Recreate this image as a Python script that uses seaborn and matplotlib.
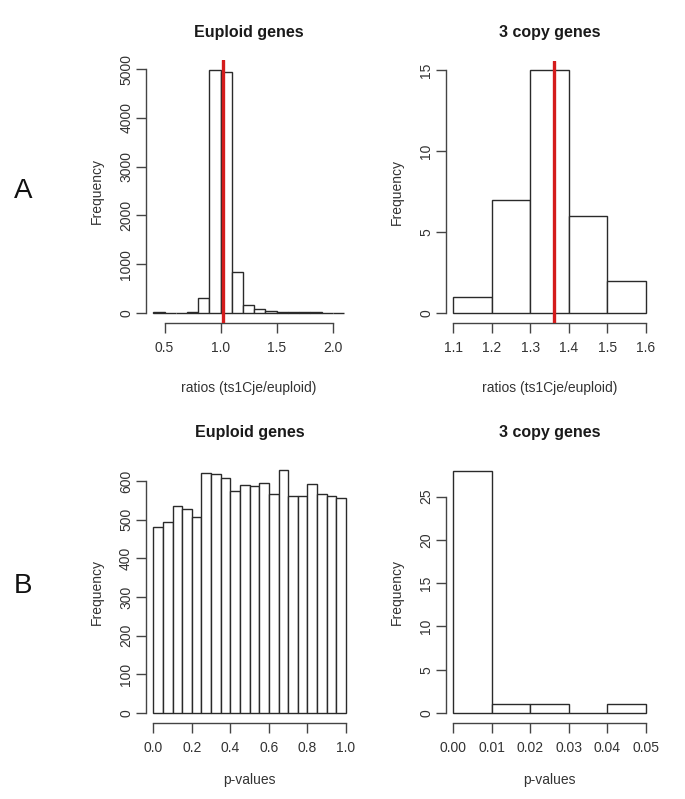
import numpy as np
import pandas as pd
import matplotlib
matplotlib.use("Agg")
import matplotlib.pyplot as plt
import seaborn as sns

# ---------------- data ----------------
# A: ratios (ts1Cje/euploid), histogram bins of width 0.1
eu_ratio_edges = [0.4, 0.5, 0.6, 0.7, 0.8, 0.9, 1.0, 1.1, 1.2, 1.3, 1.4,
                  1.5, 1.6, 1.7, 1.8, 1.9, 2.0, 2.1]
eu_ratio_counts = [18, 0, 9, 11, 305, 4990, 4950, 839, 164, 76, 38,
                   14, 12, 12, 10, 0, 1]
eu_ratio_mean = 1.02

tc_ratio_edges = [1.1, 1.2, 1.3, 1.4, 1.5, 1.6]
tc_ratio_counts = [1, 7, 15, 6, 2]
tc_ratio_mean = 1.362

# B: p-values
eu_p_edges = [0.0, 0.05, 0.10, 0.15, 0.20, 0.25, 0.30, 0.35, 0.40, 0.45, 0.50,
              0.55, 0.60, 0.65, 0.70, 0.75, 0.80, 0.85, 0.90, 0.95, 1.0]
eu_p_counts = [482, 493, 536, 527, 508, 620, 617, 609, 573, 591,
               588, 596, 566, 628, 562, 560, 593, 566, 560, 556]

tc_p_edges = [0.00, 0.01, 0.02, 0.03, 0.04, 0.05]
tc_p_counts = [28, 1, 1, 0, 1]

eu_ratio_ticks = [0.5, 1.0, 1.5, 2.0]
eu_ratio_yticks = [0, 1000, 2000, 3000, 4000, 5000]
tc_ratio_ticks = [1.1, 1.2, 1.3, 1.4, 1.5, 1.6]
tc_ratio_yticks = [0, 5, 10, 15]
eu_p_ticks = [0.0, 0.2, 0.4, 0.6, 0.8, 1.0]
eu_p_yticks = [0, 100, 200, 300, 400, 500, 600]
tc_p_ticks = [0.00, 0.01, 0.02, 0.03, 0.04, 0.05]
tc_p_yticks = [0, 5, 10, 15, 20, 25]

titles = ["Euploid genes", "3 copy genes"]
xlab_ratio = "ratios (ts1Cje/euploid)"
xlab_p = "p-values"
ylab = "Frequency"

# ---------------- style ----------------
sns.set_style("white")
plt.rcParams['font.family'] = ['Liberation Sans', 'DejaVu Sans']
TXT = '#333333'
LINE = '#444444'

W, H = 685, 799
fig = plt.figure(figsize=(W / 100, H / 100), dpi=100)


def add_ax(l, r, t, b):
    return fig.add_axes([l / W, 1 - b / H, (r - l) / W, (b - t) / H])


def draw(ax, edges, counts, xticks, yticks, xfmt, title, xlabel, box,
         title_y, xlab_off, vline=None):
    centers = [(a + b) / 2 for a, b in zip(edges[:-1], edges[1:])]
    df = pd.DataFrame({"x": centers, "w": counts})
    sns.histplot(data=df, x="x", weights="w", bins=list(edges), ax=ax,
                 color="white", edgecolor="#2a2a2a", linewidth=1.0, alpha=1)
    lo, hi = edges[0], edges[-1]
    pad = 0.04 * (hi - lo)
    ax.set_xlim(lo - pad, hi + pad)
    ymax = max(counts)
    ax.set_ylim(-0.04 * ymax, 1.04 * ymax)
    if vline is not None:
        ax.axvline(vline, color="#d41c1c", lw=2.4, zorder=5)
    for s in ["top", "right"]:
        ax.spines[s].set_visible(False)
    ax.spines["left"].set_bounds(yticks[0], yticks[-1])
    ax.spines["bottom"].set_bounds(xticks[0], xticks[-1])
    for s in ["left", "bottom"]:
        ax.spines[s].set_color(LINE)
        ax.spines[s].set_linewidth(1.0)
    ax.set_xticks(xticks)
    ax.set_xticklabels([xfmt.format(v) for v in xticks])
    ax.set_yticks(yticks)
    ax.set_yticklabels([str(v) for v in yticks])
    ax.tick_params(axis="both", direction="out", length=7, width=1.0,
                   color=LINE, labelcolor=TXT, labelsize=10)
    ax.tick_params(axis="x", pad=6.5, bottom=True)
    ax.tick_params(axis="y", pad=2.0, left=True)
    for lab in ax.get_yticklabels():
        lab.set_rotation(90)
        lab.set_va("center")
    l, r, t, b = box
    ax.set_ylabel(ylab, color=TXT, fontsize=10)
    ax.yaxis.label.set_va("center")
    ax.yaxis.set_label_coords(-49 / (r - l), 0.5)
    ax.set_xlabel(xlabel, color=TXT, fontsize=10)
    ax.xaxis.label.set_va("center")
    ax.xaxis.set_label_coords(0.5, -xlab_off / (b - t))
    fig.text(((l + r) / 2) / W, 1 - title_y / H, title, ha="center",
             va="center", fontsize=11.5, fontweight="bold", color="#1a1a1a")


boxes = {
    "tl": (145.7, 351.6, 60.0, 322.7),
    "tr": (445.6, 653.4, 60.5, 322.7),
    "bl": (145.6, 353.7, 460.5, 722.7),
    "br": (445.7, 653.4, 460.9, 722.7),
}

ax = add_ax(*boxes["tl"])
draw(ax, eu_ratio_edges, eu_ratio_counts, eu_ratio_ticks, eu_ratio_yticks,
     "{:.1f}", titles[0], xlab_ratio, boxes["tl"], 32, 65, vline=eu_ratio_mean)

ax = add_ax(*boxes["tr"])
draw(ax, tc_ratio_edges, tc_ratio_counts, tc_ratio_ticks, tc_ratio_yticks,
     "{:.1f}", titles[1], xlab_ratio, boxes["tr"], 32, 65, vline=tc_ratio_mean)

ax = add_ax(*boxes["bl"])
draw(ax, eu_p_edges, eu_p_counts, eu_p_ticks, eu_p_yticks,
     "{:.1f}", titles[0], xlab_p, boxes["bl"], 432, 57)

ax = add_ax(*boxes["br"])
draw(ax, tc_p_edges, tc_p_counts, tc_p_ticks, tc_p_yticks,
     "{:.2f}", titles[1], xlab_p, boxes["br"], 432, 57)

fig.text(23 / W, 1 - 191 / H, "A", ha="center", va="center", fontsize=20,
         color="#111111")
fig.text(23 / W, 1 - 586 / H, "B", ha="center", va="center", fontsize=20,
         color="#111111")

fig.savefig("out.png", dpi=100, facecolor="white")
